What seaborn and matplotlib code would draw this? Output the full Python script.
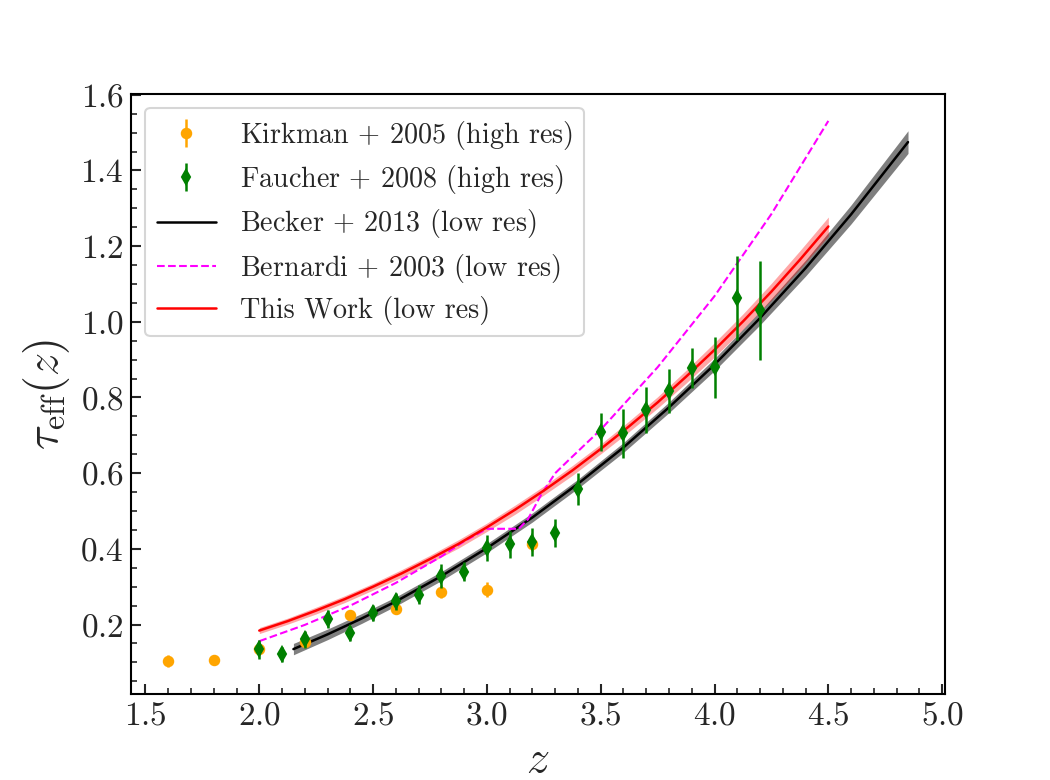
import matplotlib
matplotlib.use("Agg")
import matplotlib.pyplot as plt
from matplotlib.ticker import MultipleLocator
import pandas as pd
import seaborn as sns

# Kirkman + 2005 (high res) measurements
kirk_z = [1.6, 1.8, 2.0, 2.2, 2.4, 2.6, 2.8, 3.0, 3.2]
kirk_tau = [0.104, 0.105, 0.136, 0.155, 0.226, 0.240, 0.287, 0.292, 0.414]
kirk_err = [0.016, 0.005, 0.012, 0.012, 0.013, 0.012, 0.017, 0.020, 0.020]

# Faucher + 2008 (high res) measurements
fg_z = [2.0, 2.1, 2.2, 2.3, 2.4, 2.5, 2.6, 2.7, 2.8, 2.9, 3.0, 3.1,
        3.2, 3.3, 3.4, 3.5, 3.6, 3.7, 3.8, 3.9, 4.0, 4.1, 4.2]
fg_tau = [0.134, 0.121, 0.161, 0.215, 0.177, 0.230, 0.261, 0.279, 0.328,
          0.340, 0.402, 0.412, 0.418, 0.442, 0.558, 0.709, 0.705, 0.767,
          0.817, 0.879, 0.880, 1.063, 1.030]
fg_err = [0.026, 0.020, 0.023, 0.024, 0.020, 0.022, 0.022, 0.026, 0.031,
          0.026, 0.034, 0.035, 0.037, 0.037, 0.042, 0.050, 0.064, 0.061,
          0.057, 0.053, 0.081, 0.110, 0.131]

# Becker + 2013 (low res) curve and its band half-width
becker_z = [2.15, 2.3, 2.45, 2.6, 2.8, 3.0, 3.2, 3.4, 3.6, 3.8, 4.0, 4.2,
            4.4, 4.6, 4.85]
becker_tau = [0.135, 0.174, 0.216, 0.261, 0.328, 0.402, 0.483, 0.572,
              0.668, 0.774, 0.887, 1.010, 1.142, 1.284, 1.475]
becker_sig = [0.015, 0.014, 0.013, 0.012, 0.012, 0.012, 0.012, 0.012,
              0.013, 0.014, 0.016, 0.018, 0.021, 0.025, 0.030]

# Bernardi + 2003 (low res) curve
bern_z = [2.0, 2.2, 2.4, 2.6, 2.8, 2.9, 3.0, 3.14, 3.18, 3.24, 3.3, 3.36,
          3.43, 3.5, 3.75, 4.0, 4.25, 4.5]
bern_tau = [0.156, 0.199, 0.250, 0.310, 0.380, 0.420, 0.453, 0.453, 0.478,
            0.545, 0.600, 0.635, 0.675, 0.715, 0.880, 1.068, 1.285, 1.531]

# This Work (low res) curve and its band half-width
work_z = [2.0, 2.125, 2.25, 2.375, 2.5, 2.625, 2.75, 2.875, 3.0, 3.125,
          3.25, 3.375, 3.5, 3.625, 3.75, 3.875, 4.0, 4.125, 4.25, 4.375, 4.5]
work_tau = [0.184, 0.209, 0.237, 0.267, 0.300, 0.335, 0.373, 0.413, 0.457,
            0.504, 0.554, 0.607, 0.664, 0.724, 0.787, 0.855, 0.926, 1.001,
            1.080, 1.164, 1.252]
work_sig = [0.008, 0.008, 0.009, 0.009, 0.009, 0.010, 0.010, 0.011, 0.011,
            0.012, 0.012, 0.013, 0.013, 0.014, 0.015, 0.017, 0.019, 0.020,
            0.022, 0.024, 0.025]

sns.set_theme(style="ticks")
plt.rcParams["font.family"] = ["cmr10", "DejaVu Serif"]
plt.rcParams["mathtext.fontset"] = "cm"
plt.rcParams["axes.formatter.use_mathtext"] = True
plt.rcParams["axes.unicode_minus"] = False

fig, ax = plt.subplots(figsize=(7, 5.2), dpi=150)

becker = pd.DataFrame({"z": becker_z, "tau": becker_tau, "sig": becker_sig})
bern = pd.DataFrame({"z": bern_z, "tau": bern_tau})
work = pd.DataFrame({"z": work_z, "tau": work_tau, "sig": work_sig})

# bands
ax.fill_between(becker["z"], becker["tau"] - becker["sig"],
                becker["tau"] + becker["sig"], color="black", alpha=0.5, lw=0)
ax.fill_between(work["z"], work["tau"] - work["sig"],
                work["tau"] + work["sig"], color="red", alpha=0.35, lw=0)

# curves
sns.lineplot(data=becker, x="z", y="tau", ax=ax, color="black", lw=1.2,
             label="Becker $+$ 2013 (low res)")
sns.lineplot(data=bern, x="z", y="tau", ax=ax, color="magenta", lw=1.0,
             ls="--", label="Bernardi $+$ 2003 (low res)")
sns.lineplot(data=work, x="z", y="tau", ax=ax, color="red", lw=1.2,
             label="This Work (low res)")

# measurements
ax.errorbar(kirk_z, kirk_tau, yerr=kirk_err, fmt="o", color="orange",
            ms=4.5, elinewidth=1.2, zorder=4, label="Kirkman $+$ 2005 (high res)")
ax.errorbar(fg_z, fg_tau, yerr=fg_err, fmt="d", color="green",
            ms=5, elinewidth=1.2, zorder=5, label="Faucher $+$ 2008 (high res)")

ax.set_xlabel(r"$z$", fontsize=22)
ax.set_ylabel(r"$\tau_{\rm eff}(z)$", fontsize=22)

ax.xaxis.set_major_locator(MultipleLocator(0.5))
ax.xaxis.set_minor_locator(MultipleLocator(0.1))
ax.yaxis.set_major_locator(MultipleLocator(0.2))
ax.yaxis.set_minor_locator(MultipleLocator(0.05))
ax.tick_params(which="both", direction="in", labelsize=16)
ax.tick_params(which="major", length=5, width=1)
ax.tick_params(which="minor", length=3, width=0.8)
for sp in ax.spines.values():
    sp.set_linewidth(1.0)
    sp.set_color("black")

handles, labels = ax.get_legend_handles_labels()
order = ["Kirkman $+$ 2005 (high res)", "Faucher $+$ 2008 (high res)",
         "Becker $+$ 2013 (low res)", "Bernardi $+$ 2003 (low res)",
         "This Work (low res)"]
lookup = dict(zip(labels, handles))
ax.legend([lookup[k] for k in order], order, loc="upper left", fontsize=13.5,
          labelspacing=0.4, handlelength=2.1, handletextpad=0.85,
          frameon=True)

fig.subplots_adjust(left=0.125, right=0.9, bottom=0.11, top=0.88)
fig.savefig("out.png", dpi=150)
